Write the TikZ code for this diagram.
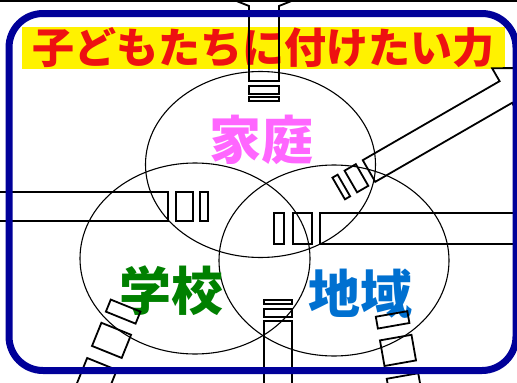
\documentclass[tikz,border=0pt]{standalone}
\usepackage{fontspec}
\usepackage{xcolor}
\usepackage{tikz}
\usetikzlibrary{shapes.geometric}
\newfontfamily\jpfont{Noto Sans CJK JP}

\definecolor{framenavy}{HTML}{000099}
\definecolor{titlered}{HTML}{EE1111}
\definecolor{homepink}{HTML}{FF66FF}
\definecolor{schoolgreen}{HTML}{008000}
\definecolor{areablue}{HTML}{0070D0}

\tikzset{
  venn/.style={ellipse, draw, line width=1.1, inner sep=0, outer sep=0,
    minimum width=230pt, minimum height=191pt},
  titlebox/.style={fill=yellow, text=titlered, inner sep=0,
    minimum width=483pt, minimum height=42pt,
    font=\jpfont\bfseries\fontsize{42}{42}\selectfont},
  areatext/.style={inner sep=0, font=\jpfont\bfseries\fontsize{52}{52}\selectfont},
  barline/.style={draw, line width=1.8} % outline of the striped arrows
}

% #1 end of bar, #2 angle, #3 half width, #4-#5 near stripe, #6-#7 far stripe,
% #8 bar length, #9 head offset
\newcommand{\stripearrow}[9]{%
  \begin{scope}[shift={#1}, rotate=#2]
    \draw[barline] (-#4,-#3) rectangle (-#5,#3);
    \draw[barline] (-#6,-#3) rectangle (-#7,#3);
    \draw[barline] (#8+#9,-#3-15) -- (#8,-#3) -- (0,-#3) -- (0,#3)
      -- (#8,#3) -- (#8+#9,#3+15) -- (#8+48,0) -- cycle;
  \end{scope}}

\begin{document}
\begin{tikzpicture}[x=1pt, y=-1pt]
  \useasboundingbox (0,0) rectangle (517,383);
  \clip (0,0) rectangle (517,383);

  % Title
  \node[titlebox] (title) at (263.5,48) {子どもたちに付けたい力};

  % Circles
  \node[venn, minimum height=186pt] (home) at (260.5,164.5) {};
  \node[venn] (school) at (195,258.5) {};
  \node[venn] (area) at (334,260.5) {};

  % Labels
  \node[areatext, text=homepink] (hometext) at (261,140) {家庭};
  \node[areatext, text=schoolgreen] (schooltext) at (171,291) {学校};
  \node[areatext, text=areablue] (areatext) at (360,294) {地域};

  % Arrows
  \stripearrow{(264,81)}{90}{15}{5}{13}{16}{20}{75}{6}
  \stripearrow{(168,206.5)}{180}{14.5}{8}{25}{32}{40}{250}{0}
  \stripearrow{(320,228.5)}{0}{15.5}{8}{27}{36}{46}{250}{0}
  \stripearrow{(278,321)}{-90}{14}{4}{12}{17}{21}{120}{0}
  \stripearrow{(369,171)}{30}{12.5}{8}{21}{29}{35}{158}{0}
  \stripearrow{(102,364)}{248}{16}{13}{38}{50}{63}{120}{0}
  \stripearrow{(402.5,376)}{280}{16}{13}{39}{51}{63}{120}{0}

  % Frame
  \draw[framenavy, line width=7, rounded corners=34] (9,13.5) rectangle (516,370.5);
  \draw[line width=2] (0,1) -- (517,1);
\end{tikzpicture}
\end{document}
